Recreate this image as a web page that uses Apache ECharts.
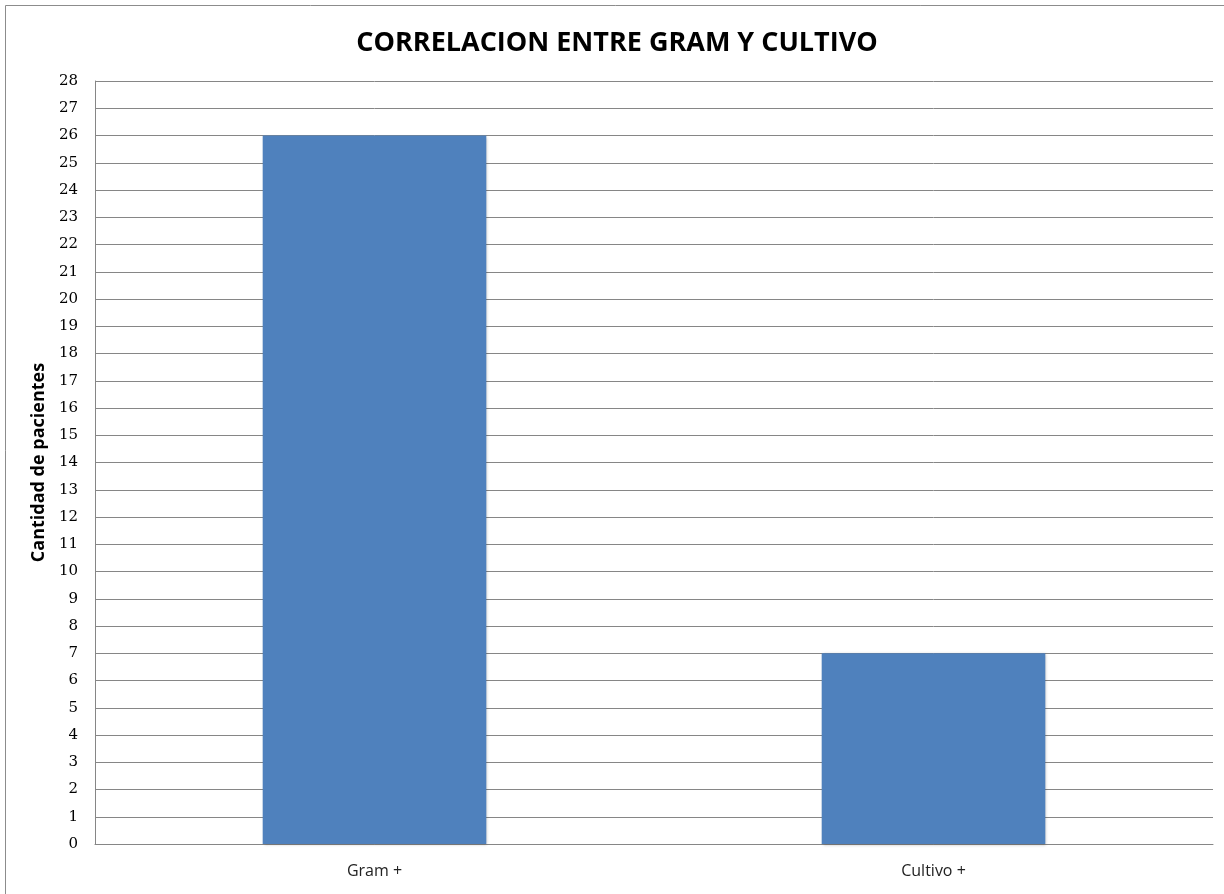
<!DOCTYPE html>
<html>
<head>
<meta charset="utf-8">
<script src="https://cdn.jsdelivr.net/npm/echarts@6/dist/echarts.min.js"></script>
<style>
  html, body { margin: 0; padding: 0; background: #ffffff; }
  #chart { width: 1224px; height: 894px; }
</style>
</head>
<body>
<div id="chart"></div>
<script>
// Patients by test result
const categories = ['Gram +', 'Cultivo +'];
const patients = [26, 7];
const chartTitle = 'CORRELACION ENTRE GRAM Y CULTIVO';
const yAxisName = 'Cantidad de pacientes';

const chart = echarts.init(document.getElementById('chart'), null, { renderer: 'canvas' });

chart.setOption({
  backgroundColor: '#ffffff',
  animation: false,
  title: {
    text: chartTitle,
    left: 612,
    textAlign: 'center',
    top: 25,
    textStyle: {
      fontFamily: 'Open Sans',
      fontWeight: 'bold',
      fontSize: 27,
      color: '#000000'
    }
  },
  graphic: [{
    type: 'rect',
    silent: true,
    shape: { x: 5.5, y: 5.5, width: 1240, height: 920 },
    style: { fill: 'none', stroke: '#8c8c8c', lineWidth: 1 }
  }],
  grid: {
    left: 95,
    right: 11,
    top: 81,
    bottom: 50,
    containLabel: false
  },
  xAxis: {
    type: 'category',
    data: categories,
    axisLine: { show: true, lineStyle: { color: '#868686', width: 1 } },
    axisTick: { show: false },
    axisLabel: {
      margin: 19,
      fontFamily: 'Open Sans',
      fontSize: 16,
      color: '#222222'
    }
  },
  yAxis: {
    type: 'value',
    min: 0,
    max: 28,
    interval: 1,
    name: yAxisName,
    nameLocation: 'middle',
    nameGap: 45,
    nameRotate: 90,
    nameTextStyle: {
      fontFamily: 'Open Sans',
      fontWeight: 'bold',
      fontSize: 18,
      color: '#000000'
    },
    axisLine: { show: true, lineStyle: { color: '#868686', width: 1 } },
    axisTick: { show: false },
    axisLabel: {
      margin: 17,
      fontFamily: 'DejaVu Serif',
      fontSize: 15,
      color: '#000000'
    },
    splitLine: { show: true, lineStyle: { color: '#868686', width: 1 } }
  },
  series: [{
    type: 'bar',
    data: patients,
    barWidth: '40%',
    itemStyle: {
      color: '#4f81bd',
      shadowColor: 'rgba(0,0,0,0.25)',
      shadowBlur: 3,
      shadowOffsetX: 1,
      shadowOffsetY: 1
    }
  }]
});
</script>
</body>
</html>
